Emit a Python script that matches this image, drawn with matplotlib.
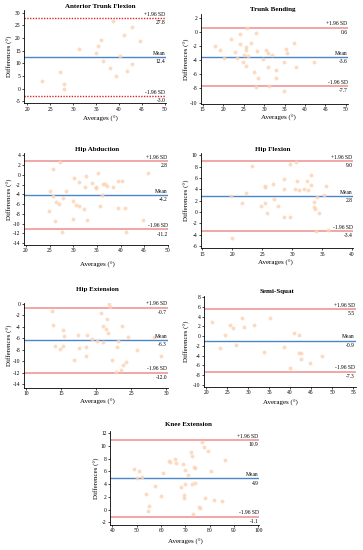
import numpy as np
import matplotlib
matplotlib.use("Agg")
import matplotlib.pyplot as plt

plt.rcParams['font.family'] = ['Liberation Serif', 'DejaVu Serif']
plt.rcParams['axes.unicode_minus'] = False

# ---- data ----
titles = ["Anterior Trunk Flexion", "Trunk Bending", "Hip Abduction", "Hip Flexion",
          "Hip Extension", "Semi-Squat", "Knee Extension"]

atf_x = [23.1, 27.2, 27.9, 27.9, 31.2, 34.9, 35.4, 36.1, 36.6, 38.0, 38.8, 39.3, 40.2, 41.2, 41.8, 42.8, 42.8, 44.5]
atf_y = [3.2, 6.5, 2.0, 0.0, 15.8, 14.1, 16.7, 19.2, 11.1, 8.2, 26.9, 5.0, 13.1, 21.3, 7.0, 24.5, 9.8, 18.7]

tb_x = [17.9, 19.1, 20.1, 22.0, 23.0, 23.3, 24.0, 24.1, 24.9, 25.0, 25.5, 25.8, 25.7, 25.6, 26.1, 26.7, 27.6, 28.0,
        28.2, 28.0, 28.4, 29.8, 30.5, 30.9, 30.9, 31.2, 31.9, 32.8, 33.0, 34.9, 35.3, 35.7, 34.9, 37.3, 37.7, 42.1]
tb_y = [-2.0, -2.5, -3.7, -1.0, -2.9, -3.7, -1.7, -0.3, -4.2, -3.2, -2.1, 0.6, -2.5, -4.8, -3.4, -1.6, -5.7, -0.1,
        -2.7, -7.8, -6.5, -3.8, -2.6, -3.0, -4.9, -7.6, -3.3, -5.4, -6.5, -4.2, -2.4, -3.0, -8.4, -1.6, -4.9, -4.3]

ha_x = [24.9, 25.0, 25.8, 25.8, 26.1, 26.3, 27.2, 27.1, 27.7, 27.9, 28.5, 29.9, 30.0, 30.1, 30.5, 31.3, 31.3, 32.3,
        32.5, 32.7, 33.0, 34.0, 34.8, 34.8, 35.3, 35.6, 36.1, 36.3, 36.7, 37.1, 38.5, 39.4, 39.4, 40.3, 40.9, 41.2,
        44.8, 45.9]
ha_y = [-7.4, -3.3, 1.2, -4.3, -9.5, -5.5, 2.6, -6.0, -11.7, -4.7, -3.4, -5.4, -9.1, -0.7, -6.2, -1.4, -6.3, -7.0,
        -2.4, -0.3, -9.2, -1.7, -2.4, -2.6, 0.3, -6.3, -4.1, -1.8, -1.9, -2.2, -2.4, -6.7, -1.3, -1.2, -6.7, -11.7,
        -9.2, 0.3]

hf_x = [19.8, 19.9, 21.6, 22.2, 23.2, 24.8, 25.4, 25.5, 25.5, 25.8, 26.7, 27.0, 27.6, 28.6, 28.6, 28.6, 29.7, 29.7,
        30.6, 30.4, 30.8, 31.2, 31.9, 32.4, 32.7, 33.1, 33.1, 33.6, 33.6, 33.8, 34.0, 34.2, 34.4, 35.3, 35.6, 35.9]
hf_y = [2.9, -4.6, 1.5, 3.3, 8.1, 1.0, 4.4, 4.6, 1.6, -0.2, 4.9, 2.3, 1.0, 5.9, 4.0, -0.9, 8.4, -0.8,
        8.9, 4.1, 5.5, 3.8, 4.1, 5.5, 3.9, 6.6, 4.8, 1.8, 0.9, 0.6, -3.3, 2.6, -0.1, 3.0, 4.5, -3.1]

he_x = [13.7, 13.9, 14.1, 14.9, 15.2, 15.3, 15.4, 16.9, 17.4, 17.5, 18.6, 18.6, 18.7, 19.4, 20.1, 20.7, 20.9, 20.9,
        21.4, 21.6, 21.7, 21.8, 22.0, 22.3, 22.8, 22.9, 23.1, 23.5, 23.7, 23.8, 24.3, 24.5, 25.8, 28.3, 29.2]
he_y = [-1.3, -3.7, -7.4, -7.9, -7.4, -4.6, -5.6, -9.7, -5.5, -7.7, -7.5, -9.1, -5.4, -6.1, -6.5, -1.6, -3.8, -6.6,
        -4.3, -2.7, -5.1, -0.1, -0.6, -9.7, -11.9, -7.6, -6.4, -11.5, -3.9, -10.7, -10.1, -5.7, -8.1, -5.8, -9.0]

ss_x = [21.5, 23.4, 24.6, 25.7, 26.3, 27.0, 28.5, 29.0, 31.3, 33.7, 35.1, 38.5, 41.0, 40.0, 42.1, 42.2, 42.6, 42.7, 44.8, 47.5]
ss_y = [2.9, -2.4, 0.2, 2.2, 1.6, -1.9, 3.8, 1.8, 2.2, -3.2, 3.8, -2.2, 0.6, -6.5, 0.2, -3.5, -3.4, -4.6, -5.4, -4.0]

ke_x = [48.9, 50.8, 50.3, 52.3, 53.7, 54.5, 55.2, 57.5, 60.0, 60.7, 63.4, 63.7, 65.6, 66.2, 68.9, 68.4, 70.0, 70.0,
        69.3, 69.4, 71.1, 72.3, 72.9, 72.9, 73.6, 73.8, 73.8, 75.8, 76.2, 73.0, 76.7, 77.5, 77.9, 79.2, 80.4, 81.6,
        85.2, 86.3]
ke_y = [6.4, 6.1, 4.9, 5.1, 2.5, -0.2, 0.6, 3.7, 2.2, 5.8, 7.7, 7.5, 8.0, 7.3, 7.1, 3.5, 6.2, 4.0,
        1.8, 2.3, 5.5, 9.0, 8.4, 4.0, 6.7, 6.5, 4.2, 0.5, 0.3, -0.7, 10.7, 9.9, 1.8, 9.2, 6.1, 1.6,
        1.35, 7.8]

upper = [27.8, 0.6, 2.8, 9.0, -0.7, 5.5, 10.9]
means = [12.4, -3.6, -4.2, 2.8, -6.3, -0.9, 4.9]
lower = [-3.0, -7.7, -11.2, -3.4, -12.0, -7.3, -1.1]

xticks = [range(20, 51, 5), range(15, 51, 5), range(20, 51, 5), range(15, 41, 5),
          range(10, 31, 5), range(20, 56, 5), range(40, 101, 10)]
yticks = [range(-5, 31, 5), range(-10, 3, 2), range(-14, 5, 2), range(-6, 11, 2),
          range(-14, 1, 2), range(-10, 9, 2), range(-2, 13, 2)]

xs = [atf_x, tb_x, ha_x, hf_x, he_x, ss_x, ke_x]
ys = [atf_y, tb_y, ha_y, hf_y, he_y, ss_y, ke_y]

# ---- layout (pixels) ----
W, H = 363, 550
# axes box: left, right, top, bottom in px
boxes = [(24.1, 166.2, 10.2, 103.4), (200.7, 348.3, 14.2, 104.0), (24.0, 168.3, 153.0, 245.0),
         (200.7, 353.3, 153.0, 248.3), (24.0, 167.7, 302.7, 387.7), (204.0, 355.7, 295.7, 386.9),
         (110.0, 259.3, 430.7, 525.0)]
xlims = [(19.3, 50.3), (14.5, 50.6), (19.6, 50.1), (14.7, 40.2), (9.7, 30.2), (19.5, 55.6), (39.0, 100.4)]
ylims = [(-5.8, 31), (-10.2, 2.5), (-14.4, 4.5), (-6.4, 10.4), (-14.6, 0.2), (-10.4, 8.3), (-2.4, 12.4)]
title_pos = [(100, 7), (273, 9), (97, 150), (273, 150), (97, 290), (277, 292), (188, 425)]
xlab_pos = [(100, 119), (278, 118), (97, 265), (275, 263), (97, 402), (280, 403), (185, 542)]
ylab_x = [10, 187, 10, 187, 10, 187, 97]

fig = plt.figure(figsize=(W / 100, H / 100), dpi=100)

for i in range(7):
    l, r, t, b = boxes[i]
    ax = fig.add_axes([l / W, 1 - b / H, (r - l) / W, (b - t) / H])
    ax.scatter(xs[i], ys[i], s=8, color='#fcd2b4', alpha=0.8, linewidths=0, zorder=2)
    if i == 0:
        ax.axhline(upper[i], color='#d9262b', lw=1.0, ls=(0, (1, 1)), zorder=1)
        ax.axhline(lower[i], color='#d9262b', lw=1.0, ls=(0, (1, 1)), zorder=1)
    else:
        ax.axhline(upper[i], color='#ec8f8f', lw=1.1, zorder=1)
        ax.axhline(lower[i], color='#ec8f8f', lw=1.1, zorder=1)
    ax.axhline(means[i], color='#4a86c8', lw=1.0, zorder=1)

    tr = ax.get_yaxis_transform()
    for val, name in [(upper[i], '+1.96 SD'), (means[i], 'Mean'), (lower[i], '-1.96 SD')]:
        ax.annotate(name, (0.995, val), xycoords=tr, xytext=(0, 1), textcoords='offset points',
                    ha='right', va='bottom', fontsize=4)
        ax.annotate('%.1f' % val, (0.995, val), xycoords=tr, xytext=(0, -1.5), textcoords='offset points',
                    ha='right', va='top', fontsize=4)

    ax.set_xlim(*xlims[i])
    ax.set_ylim(*ylims[i])
    ax.set_xticks(list(xticks[i]))
    ax.set_yticks(list(yticks[i]))
    ax.tick_params(labelsize=4, length=1.5, width=0.5, pad=1)
    for s in ['top', 'right']:
        ax.spines[s].set_visible(False)
    for s in ['left', 'bottom']:
        ax.spines[s].set_linewidth(0.6)

    fig.text(title_pos[i][0] / W, 1 - title_pos[i][1] / H, titles[i], ha='center', va='center',
             fontsize=5, fontweight='bold')
    fig.text(xlab_pos[i][0] / W, 1 - xlab_pos[i][1] / H, 'Averages (°)', ha='center', va='center', fontsize=5)
    fig.text(ylab_x[i] / W, 1 - ((t + b) / 2) / H, 'Differences (°)', ha='center', va='center',
             rotation=90, fontsize=5)

fig.savefig('out.png', dpi=100)
